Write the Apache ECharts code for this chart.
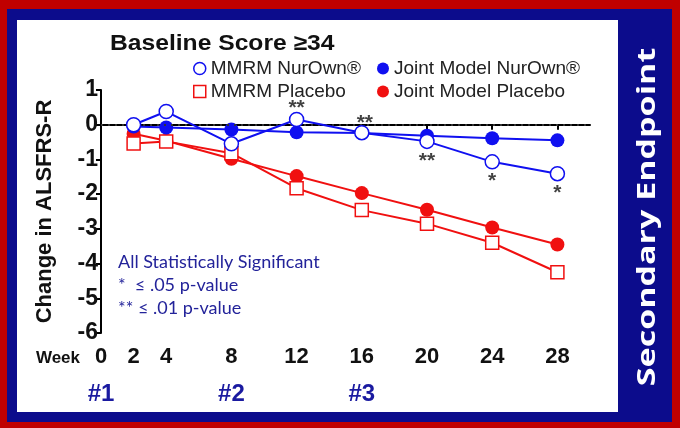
<!DOCTYPE html>
<html><head><meta charset="utf-8">
<script src="https://cdn.jsdelivr.net/npm/echarts@6/dist/echarts.min.js"></script>
<style>html,body{margin:0;padding:0;background:#c00000}#c{width:680px;height:428px}</style>
</head><body><div id="c"></div>
<script>
const weeks = [2, 4, 8, 12, 16, 20, 24, 28];
const mmrmNurOwn = [0.0, 0.38, -0.55, 0.15, -0.23, -0.48, -1.07, -1.41];
const jointNurOwn = [-0.05, -0.08, -0.14, -0.22, -0.24, -0.32, -0.39, -0.45];
const mmrmPlacebo = [-0.54, -0.48, -0.82, -1.83, -2.46, -2.85, -3.40, -4.25];
const jointPlacebo = [-0.26, -0.46, -0.98, -1.48, -1.97, -2.45, -2.96, -3.45];
const sigMarks = ['', '', '', '**', '**', '**', '*', '*'];
const xTickValues = [0, 2, 4, 8, 12, 16, 20, 24, 28];
const visitWeeks = [0, 8, 16];
const visitLabels = ['#1', '#2', '#3'];
const seriesNames = ['MMRM NurOwn®', 'Joint Model NurOwn®', 'MMRM Placebo', 'Joint Model Placebo'];
const notes = ['All Statistically Significant', '*  \u2264 .05 p-value', '** \u2264 .01 p-value'];

const BLUE = '#1010f0', RED = '#f01010', NAVY = '#0c0c8c', TXTNAVY = '#23239a';
// label placement for significance marks (style only)
const sigAbove = [false, false, false, true, true, false, false, false];

const pairs = a => weeks.map((w, i) => [w, a[i]]);
const chart = echarts.init(document.getElementById('c'));

const sigData = weeks.map((w, i) => sigMarks[i] ? {
  value: [w, mmrmNurOwn[i]],
  label: { show: true, formatter: sigMarks[i], position: sigAbove[i] ? 'top' : 'bottom',
           distance: sigAbove[i] ? 1 : 9, offset: (w === 16 ? [3, 2] : [0, 0]) }
} : null).filter(Boolean);

chart.setOption({
  animation: false,
  backgroundColor: '#c00000',
  graphic: [
    { type: 'rect', shape: { x: 7, y: 9, width: 665, height: 413 }, style: { fill: NAVY }, z: -10 },
    { type: 'rect', shape: { x: 17, y: 20, width: 601, height: 392 }, style: { fill: '#ffffff' }, z: -9 },
    { type: 'text', x: 648, y: 217, rotation: Math.PI / 2, scaleX: 1.36,
      style: { text: 'Secondary Endpoint', fill: '#ffffff', font: 'bold 25px "Open Sans"', align: 'center', verticalAlign: 'middle' } },
    { type: 'text', x: 110, y: 44, scaleX: 1.12,
      style: { text: 'Baseline Score \u226534', fill: '#111', font: 'bold 22px "Liberation Sans", Arial', verticalAlign: 'middle' } },
    { type: 'text', x: 80, y: 358,
      style: { text: 'Week', fill: '#111', font: 'bold 17px "Liberation Sans", Arial', align: 'right', verticalAlign: 'middle' } },
    { type: 'text', x: 118, y: 262,
      style: { text: notes[0], fill: TXTNAVY, font: '18px Lato', verticalAlign: 'middle' } },
    { type: 'text', x: 118, y: 285,
      style: { text: notes[1], fill: TXTNAVY, font: '18px Lato', verticalAlign: 'middle' } },
    { type: 'text', x: 118, y: 308,
      style: { text: notes[2], fill: TXTNAVY, font: '18px Lato', verticalAlign: 'middle' } }
  ],
  legend: [
    { left: 188, top: 54, orient: 'vertical', itemGap: 4, itemWidth: 12, itemHeight: 12,
      textStyle: { fontFamily: '"Liberation Sans", Arial', fontSize: 19, color: '#222', lineHeight: 18 },
      data: [
        { name: seriesNames[0], icon: 'circle', itemStyle: { color: '#fff', borderColor: BLUE, borderWidth: 1.5 } },
        { name: seriesNames[2], icon: 'rect', itemStyle: { color: '#fff', borderColor: RED, borderWidth: 1.5 } }
      ] },
    { left: 372, top: 54, orient: 'vertical', itemGap: 4, itemWidth: 12, itemHeight: 12,
      textStyle: { fontFamily: '"Liberation Sans", Arial', fontSize: 19, color: '#222', lineHeight: 18 },
      data: [
        { name: seriesNames[1], icon: 'circle', itemStyle: { color: BLUE, borderWidth: 0 } },
        { name: seriesNames[3], icon: 'circle', itemStyle: { color: RED, borderWidth: 0 } }
      ] }
  ],
  grid: { left: 101, right: 90, top: 90, bottom: 95, containLabel: false },
  xAxis: [
    { type: 'value', min: 0, max: 30,
      axisLine: { lineStyle: { color: '#000', width: 2 } },
      axisTick: { show: true, length: 5, customValues: xTickValues, lineStyle: { color: '#000', width: 2 } },
      axisLabel: { customValues: xTickValues, color: '#111', fontWeight: 'bold', fontSize: 22, margin: 13,
                   fontFamily: '"Liberation Sans", Arial' },
      splitLine: { show: false } },
    { type: 'value', min: 0, max: 30, position: 'bottom', offset: 41,
      axisLine: { show: false }, axisTick: { show: false }, splitLine: { show: false },
      axisLabel: { customValues: visitWeeks, formatter: v => visitLabels[visitWeeks.indexOf(v)] || '',
                   color: '#1a1aa0', fontWeight: 'bold', fontSize: 24, fontFamily: '"Liberation Sans", Arial' } }
  ],
  yAxis: { type: 'value', min: -6, max: 1, interval: 1,
    name: 'Change in ALSFRS-R', nameLocation: 'middle', nameGap: 45, nameRotate: 90,
    nameTextStyle: { color: '#111', fontWeight: 'bold', fontSize: 22, fontFamily: '"Liberation Sans", Arial' },
    axisLine: { show: true, lineStyle: { color: '#000', width: 2 } },
    axisTick: { show: true, length: 5, lineStyle: { color: '#000', width: 2 } },
    axisLabel: { color: '#111', fontWeight: 'bold', fontSize: 23, margin: 3, fontFamily: '"Liberation Sans", Arial' },
    splitLine: { show: false } },
  series: [
    { name: seriesNames[3], type: 'line', data: pairs(jointPlacebo), symbol: 'circle', symbolSize: 14,
      itemStyle: { color: RED }, lineStyle: { color: RED, width: 2 }, z: 2,
      markLine: { silent: true, symbol: 'none', label: { show: false },
        lineStyle: { color: '#333', type: [2, 5], width: 2 }, data: [{ yAxis: 0 }] } },
    { name: seriesNames[2], type: 'line', data: pairs(mmrmPlacebo), symbol: 'rect', symbolSize: 13,
      itemStyle: { color: '#fff', borderColor: RED, borderWidth: 1.5 }, lineStyle: { color: RED, width: 2 }, z: 3 },
    { name: seriesNames[1], type: 'line', data: pairs(jointNurOwn), symbol: 'circle', symbolSize: 14,
      itemStyle: { color: BLUE }, lineStyle: { color: BLUE, width: 2 }, z: 4 },
    { name: seriesNames[0], type: 'line', data: pairs(mmrmNurOwn), symbol: 'circle', symbolSize: 14,
      itemStyle: { color: '#fff', borderColor: BLUE, borderWidth: 1.5 }, lineStyle: { color: BLUE, width: 2 }, z: 5 },
    { name: 'sig', type: 'scatter', data: sigData, symbolSize: 0, z: 6, silent: true,
      label: { color: '#111', fontSize: 21, fontWeight: 'bold', fontFamily: '"Liberation Sans", Arial' } }
  ]
});
</script></body></html>
